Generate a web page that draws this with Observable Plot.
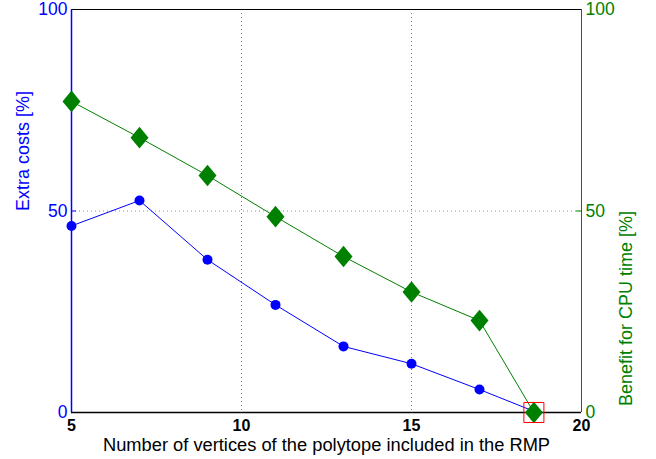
<!DOCTYPE html>
<html>
<head>
<meta charset="utf-8">
<script src="https://cdn.jsdelivr.net/npm/d3@7"></script>
<script src="https://cdn.jsdelivr.net/npm/@observablehq/plot@0.6"></script>
<style>
  html, body { margin: 0; padding: 0; background: #fff; }
  #chart svg { display: block; }
</style>
</head>
<body>
<div id="chart"></div>
<script>
// Data
const vertices = [5, 7, 9, 11, 13, 15, 17, 18.6];
const extraCosts = [46.3, 52.6, 37.9, 26.7, 16.4, 12.1, 5.7, 0.3];
const cpuBenefit = [77.2, 68.2, 58.8, 48.6, 38.7, 29.9, 22.8, 0];
const xTicks = [5, 10, 15, 20];
const yTicks = [0, 50, 100];
const highlightIndex = 7;

const costRows = vertices.map((x, i) => ({x, y: extraCosts[i]}));
const benefitRows = vertices.map((x, i) => ({x, y: cpuBenefit[i]}));
const highlight = [benefitRows[highlightIndex]];

const BLUE = "#0000ff";
const GREEN = "#008000";
const FONT = "'Liberation Sans', Arial, sans-serif";

// MATLAB-like diamond (slightly taller than wide)
const diamond = {
  draw(ctx, size) {
    const r = Math.sqrt(size / Math.PI);
    const w = r, h = r * 1.2;
    ctx.moveTo(0, -h); ctx.lineTo(w, 0); ctx.lineTo(0, h); ctx.lineTo(-w, 0); ctx.closePath();
  }
};

const chart = Plot.plot({
  width: 656,
  height: 459,
  marginLeft: 71,
  marginRight: 75,
  marginTop: 9,
  marginBottom: 47,
  style: {fontFamily: FONT, fontSize: "16px", background: "#fff", overflow: "visible"},
  x: {domain: [5, 20]},
  y: {domain: [0, 100]},
  marks: [
    // grid
    Plot.ruleX([10, 15], {stroke: "#777", strokeWidth: 1, strokeDasharray: "1,3"}),
    Plot.ruleY([50], {stroke: "#8080ff", strokeWidth: 1, strokeDasharray: "1,3"}),
    // frame lines
    Plot.ruleY([100], {stroke: "#000", strokeWidth: 1}),
    Plot.ruleY([0], {stroke: "#000", strokeWidth: 1.5}),
    Plot.ruleX([20], {stroke: GREEN, strokeWidth: 1}),
    Plot.ruleX([5], {stroke: BLUE, strokeWidth: 1.5}),
    // inward ticks
    Plot.ruleY([50], {x1: 5, x2: 5.15, stroke: BLUE}),
    Plot.ruleY([50], {x1: 19.85, x2: 20, stroke: GREEN}),
    // axes
    Plot.axisX({ticks: xTicks, tickSize: 0, tickPadding: 7.5, label: null, fill: "#000", fontWeight: "bold", fontSize: 16}),
    Plot.axisY({anchor: "left", ticks: yTicks, tickSize: 0, tickPadding: 4, label: null, fill: BLUE, fontSize: 17.5}),
    Plot.axisY({anchor: "right", ticks: yTicks, tickSize: 0, tickPadding: 4, label: null, fill: GREEN, fontSize: 17.5}),
    // series
    Plot.line(costRows, {x: "x", y: "y", stroke: BLUE, strokeWidth: 1}),
    Plot.line(benefitRows, {x: "x", y: "y", stroke: GREEN, strokeWidth: 1}),
    Plot.dot(costRows, {x: "x", y: "y", r: 5, fill: BLUE, stroke: "none"}),
    Plot.dot(benefitRows, {x: "x", y: "y", r: 9, symbol: diamond, fill: GREEN, stroke: "none"}),
    Plot.dot(highlight, {x: "x", y: "y", r: 11.3, symbol: "square", fill: "none", stroke: "#ff0000", strokeWidth: 1}),
    // titles
    Plot.text(["Extra costs [%]"], {frameAnchor: "left", dx: -48, rotate: -90, fill: BLUE, fontSize: 18}),
    Plot.text(["Benefit for CPU time [%]"], {frameAnchor: "right", dx: 44.5, rotate: -90, fill: GREEN, fontSize: 18}),
    Plot.text(["Number of vertices of the polytope included in the RMP"], {frameAnchor: "bottom", dy: 38.5, fill: "#000", fontSize: 18.3})
  ]
});
document.getElementById("chart").appendChild(chart);
</script>
</body>
</html>
